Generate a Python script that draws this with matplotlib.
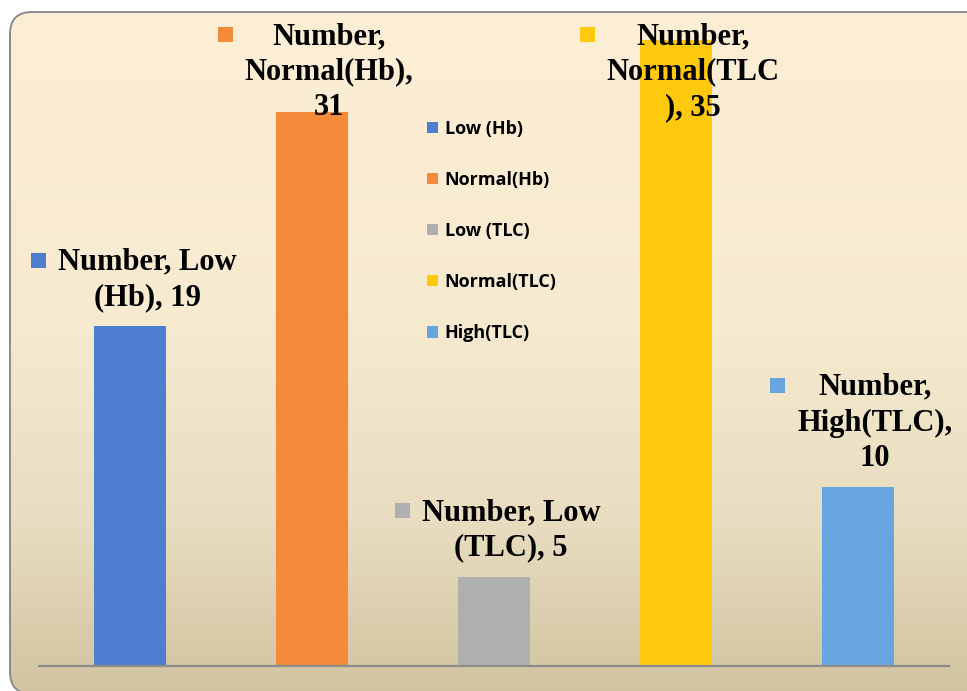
import matplotlib
matplotlib.use("Agg")
import matplotlib.pyplot as plt
import numpy as np
from matplotlib.patches import FancyBboxPatch, Rectangle
from matplotlib.colors import LinearSegmentedColormap

# Category counts
categories = ["Low (Hb)", "Normal(Hb)", "Low (TLC)", "Normal(TLC)", "High(TLC)"]
counts = [19, 31, 5, 35, 10]
colors = ["#4F7DCF", "#F58A3A", "#AFAFAF", "#FFC90E", "#66A5E0"]
label_texts = [
    "Number, Low\n(Hb), {}",
    "Number,\nNormal(Hb),\n{}",
    "Number, Low\n(TLC), {}",
    "Number,\nNormal(TLC\n), {}",
    "Number,\nHigh(TLC),\n{}",
]

W, H, DPI = 967, 691, 100
fig = plt.figure(figsize=(W / DPI, H / DPI), dpi=DPI)
fig.patch.set_facecolor("white")

# Rounded panel with a vertical gradient, laid out in pixel units (origin bottom-left)
bg = fig.add_axes([0, 0, 1, 1])
bg.set_xlim(0, W)
bg.set_ylim(0, H)
bg.axis("off")
px_left, px_top, px_w, px_h = 10, 12, 990, 682
panel = FancyBboxPatch((px_left, H - px_top - px_h), px_w, px_h,
                       boxstyle="round,pad=0,rounding_size=22",
                       facecolor="none", edgecolor="#8a8a8a", linewidth=1.4, zorder=3)
bg.add_patch(panel)
panel_cmap = LinearSegmentedColormap.from_list(
    "panel", [(0, "#FDEFD6"), (0.45, "#F6EAD0"), (0.75, "#E8DDC0"), (1.0, "#D1C3A0")])
grad = np.linspace(0, 1, 256).reshape(-1, 1)
im = bg.imshow(grad, cmap=panel_cmap, origin="upper",
               extent=(px_left, px_left + px_w, H - px_top - px_h, H - px_top),
               aspect="auto", zorder=1)
im.set_clip_path(panel)

# Main plotting axes
ax = fig.add_axes([39 / W, (H - 666) / H, 910 / W, 626 / H])
ax.set_xlim(-0.5, 4.5)
ax.set_ylim(0, 35)
ax.patch.set_alpha(0)
for side in ("top", "right", "left"):
    ax.spines[side].set_visible(False)
ax.spines["bottom"].set_color("#8C8C8C")
ax.spines["bottom"].set_linewidth(1.6)
ax.set_xticks([])
ax.set_yticks([])

containers = []
for i, (cat, val, col) in enumerate(zip(categories, counts, colors)):
    c = ax.bar(i, val, width=0.4, color=col, label=cat, zorder=2)
    containers.append(c)

leg = ax.legend(handles=containers, loc="upper left", bbox_to_anchor=(427 / W, 1 - 120 / H),
                bbox_transform=fig.transFigure, frameon=False,
                prop={"family": "Open Sans", "weight": "bold", "size": 13},
                handlelength=0.6, handleheight=0.6, handletextpad=0.39,
                labelspacing=1.83, borderpad=0, borderaxespad=0)

# Data labels with a colour key in front of each
fig.canvas.draw()
renderer = fig.canvas.get_renderer()
texts = []
for i, (val, tmpl) in enumerate(zip(counts, label_texts)):
    xd, yd = ax.transData.transform((i, val))
    t = fig.text((xd + 17) / W, (yd + 14) / H, tmpl.format(val), ha="center", va="bottom",
                 multialignment="center", family="Liberation Serif", weight="bold",
                 size=22, linespacing=1.3, color="black", zorder=5)
    texts.append(t)

fig.canvas.draw()
for i, t in enumerate(texts):
    bb = t.get_window_extent(renderer)
    if bb.y1 > H - 22:
        t.set_va("top")
        t.set_y((H - 22) / H)
fig.canvas.draw()
for i, t in enumerate(texts):
    bb = t.get_window_extent(renderer)
    left = bb.x0 - 12 - 15
    top = bb.y1 - 5
    fig.patches.append(Rectangle((left / W, (top - 15) / H), 15 / W, 15 / H,
                                 transform=fig.transFigure, facecolor=colors[i],
                                 edgecolor="none", zorder=5))

fig.savefig("out.png", dpi=DPI)
